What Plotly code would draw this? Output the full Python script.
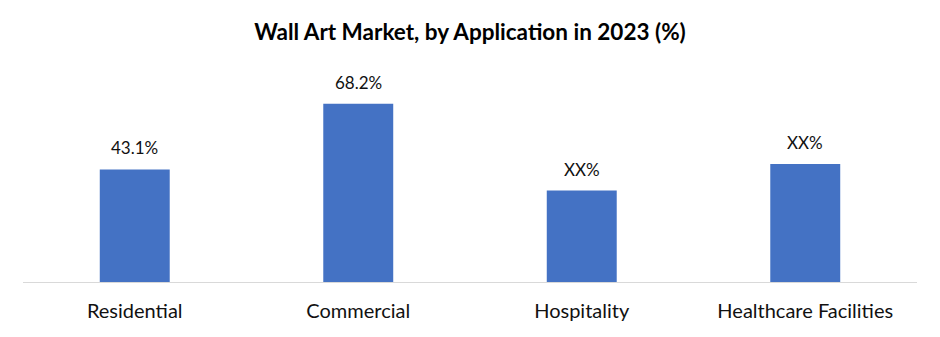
import plotly.graph_objects as go

categories = ["Residential", "Commercial", "Hospitality", "Healthcare Facilities"]
values = [43.1, 68.2, 35.0, 45.2]
labels = ["43.1%", "68.2%", "XX%", "XX%"]

FONT = "Lato, Open Sans, sans-serif"

fig = go.Figure(go.Bar(
    x=categories, y=values,
    marker=dict(color="#4472C4", line=dict(width=0)),
    cliponaxis=False,
))
for c, v, t in zip(categories, values, labels):
    fig.add_annotation(x=c, y=v, text=t, showarrow=False, yanchor="bottom",
                       yshift=9, font=dict(family=FONT, size=17, color="#111111"))
fig.update_layout(
    width=940, height=337,
    margin=dict(l=23, r=23, t=73, b=55),
    paper_bgcolor="white", plot_bgcolor="white",
    bargap=0.687,
    showlegend=False,
    title=dict(text="<b>Wall Art Market, by Application in 2023 (%)</b>",
               x=0.5, xanchor="center", y=0.905, yanchor="middle",
               font=dict(family=FONT, size=22.5, color="#000000")),
    font=dict(family=FONT),
)
fig.update_xaxes(showline=True, linecolor="#d9d9d9", linewidth=1, ticks="outside",
                 ticklen=11, tickcolor="rgba(0,0,0,0)",
                 tickfont=dict(size=20, color="#111111"), showgrid=False)
fig.update_yaxes(range=[0, 80], visible=False, showgrid=False, zeroline=False)
fig.write_html("out.html")
